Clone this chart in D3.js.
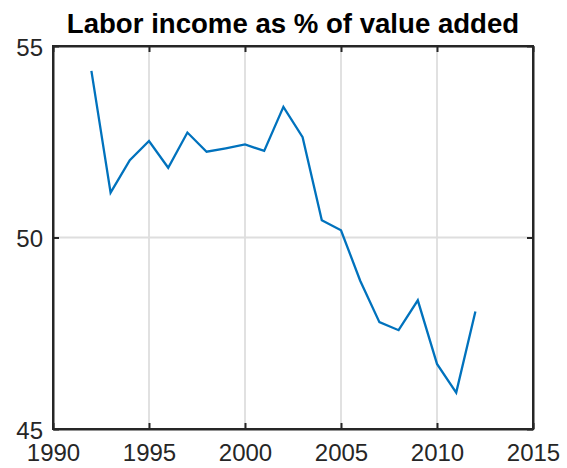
<!DOCTYPE html>
<html><head><meta charset="utf-8">
<script src="https://cdn.jsdelivr.net/npm/d3@7"></script>
<style>body{margin:0;background:#fff}svg{display:block}</style>
</head><body>
<script>
const years = [1992,1993,1994,1995,1996,1997,1998,1999,2000,2001,2002,2003,2004,2005,2006,2007,2008,2009,2010,2011,2012];
const laborShare = [54.35,51.17,52.02,52.52,51.82,52.74,52.24,52.33,52.43,52.26,53.41,52.62,50.45,50.19,48.87,47.79,47.58,48.36,46.70,45.95,48.07];
const xTicks = [1990,1995,2000,2005,2010,2015];
const yTicks = [45,50,55];
const title = "Labor income as % of value added";

(function(){
const W = 567, H = 468;
const m = {left:53, right:34, top:46, bottom:39};
const svg = d3.select("body").append("svg").attr("width",W).attr("height",H);
const x = d3.scaleLinear().domain([1990,2015]).range([m.left, W-m.right]);
const y = d3.scaleLinear().domain([45,55]).range([H-m.bottom, m.top]);
const font = "'Liberation Sans', Arial, Helvetica, sans-serif";

// gridlines
svg.append("g").selectAll("line").data(xTicks.slice(1,-1)).join("line")
  .attr("x1",d=>x(d)).attr("x2",d=>x(d)).attr("y1",y(45)).attr("y2",y(55))
  .attr("stroke","#dedede").attr("stroke-width",1.8);
svg.append("g").selectAll("line").data(yTicks.slice(1,-1)).join("line")
  .attr("y1",d=>y(d)).attr("y2",d=>y(d)).attr("x1",x(1990)).attr("x2",x(2015))
  .attr("stroke","#dedede").attr("stroke-width",1.8);

// data line
svg.append("path").datum(years.map((yr,i)=>[yr,laborShare[i]]))
  .attr("fill","none").attr("stroke","#0072BD").attr("stroke-width",2.3)
  .attr("stroke-linejoin","miter")
  .attr("d", d3.line().x(d=>x(d[0])).y(d=>y(d[1])));

// axes (inward ticks, box)
const ax = "#262626";
const tl = 6;
const gB = svg.append("g").attr("transform",`translate(0,${y(45)})`)
  .call(d3.axisBottom(x).tickValues(xTicks).tickFormat(d3.format("d")).tickSizeInner(-tl).tickSizeOuter(0).tickPadding(15));
const gT = svg.append("g").attr("transform",`translate(0,${y(55)})`)
  .call(d3.axisTop(x).tickValues(xTicks).tickFormat("").tickSizeInner(-tl).tickSizeOuter(0));
const gL = svg.append("g").attr("transform",`translate(${x(1990)},0)`)
  .call(d3.axisLeft(y).tickValues(yTicks).tickFormat(d3.format("d")).tickSizeInner(-tl).tickSizeOuter(0).tickPadding(10));
const gR = svg.append("g").attr("transform",`translate(${x(2015)},0)`)
  .call(d3.axisRight(y).tickValues(yTicks).tickFormat("").tickSizeInner(-tl).tickSizeOuter(0));
[gB,gT,gL,gR].forEach(g=>{
  g.select(".domain").attr("stroke",ax).attr("stroke-width",2);
  g.selectAll(".tick line").attr("stroke",ax).attr("stroke-width",2);
  g.selectAll("text").attr("fill","#262626").attr("font-family",font).attr("font-size",24);
});
gL.selectAll("text").attr("dy","0.38em");
svg.append("rect").attr("x",x(1990)).attr("y",y(55)).attr("width",x(2015)-x(1990)).attr("height",y(45)-y(55))
  .attr("fill","none").attr("stroke",ax).attr("stroke-width",2);

// title
svg.append("text").attr("x",(x(1990)+x(2015))/2).attr("y",33)
  .attr("text-anchor","middle").attr("font-family",font).attr("font-weight","bold")
  .attr("font-size",27.6).attr("fill","#000").text(title);
})();
</script>
</body></html>
